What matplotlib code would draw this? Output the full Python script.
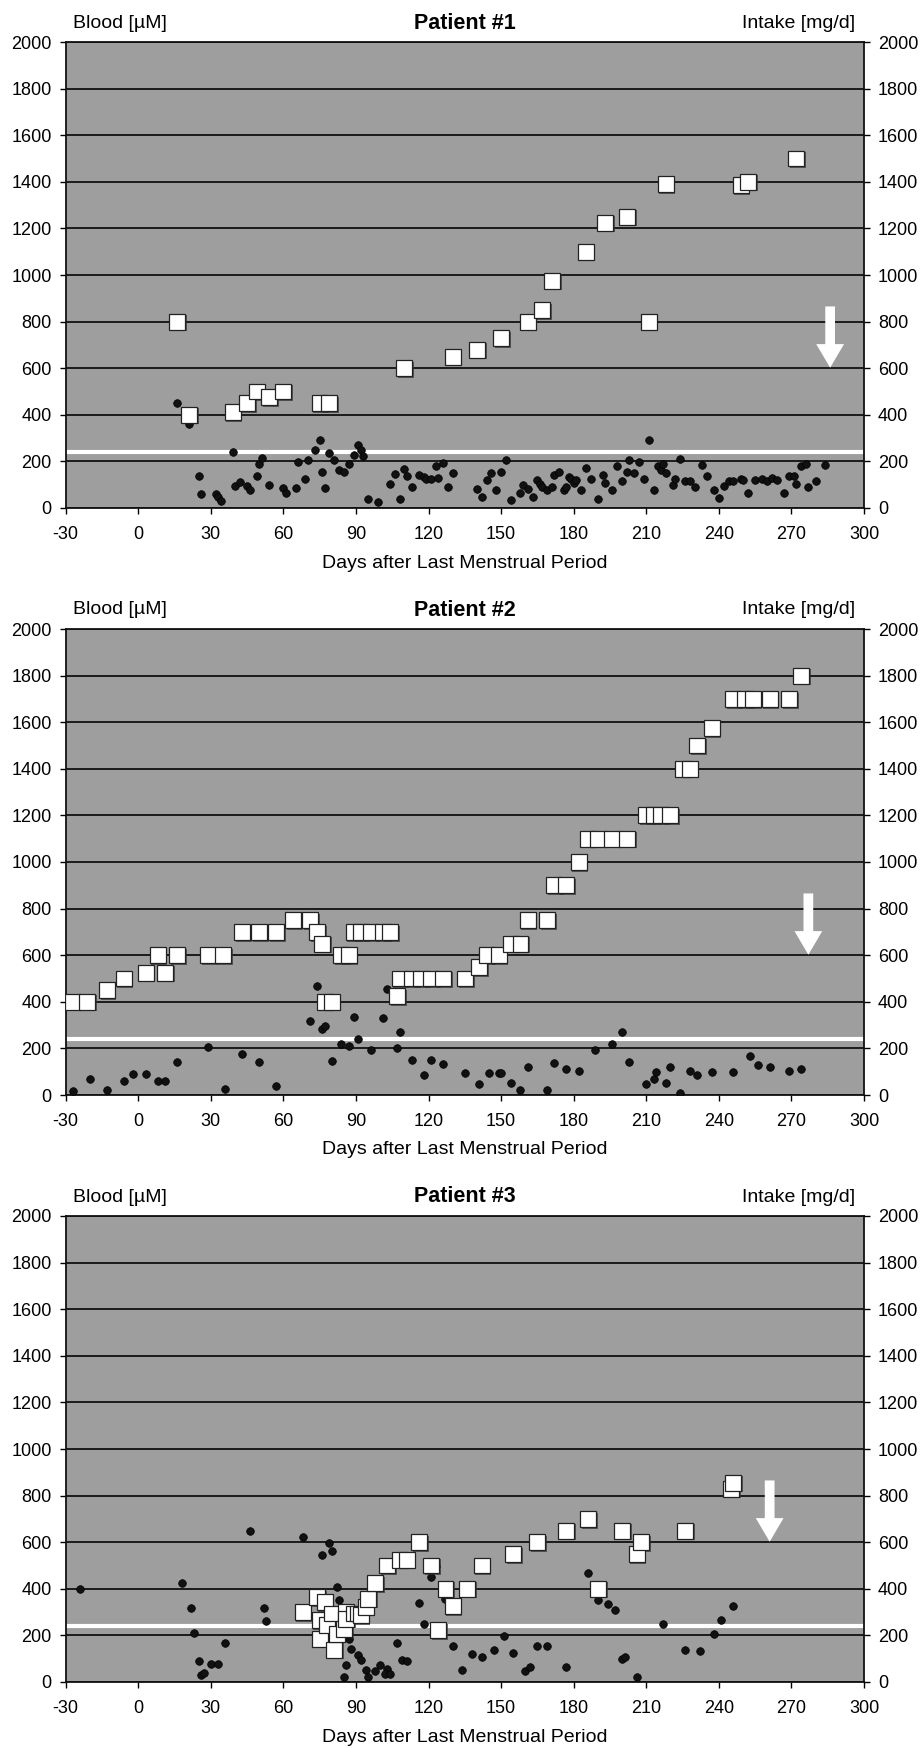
import matplotlib
matplotlib.use("Agg")
import matplotlib.pyplot as plt
import matplotlib.patheffects as pe

plt.rcParams['font.family'] = ['Liberation Sans', 'DejaVu Sans']
plt.rcParams['axes.unicode_minus'] = False

# ---------------- Data ----------------
# Patient 1
p1_blood_day = [16, 21, 25, 26, 32, 33, 34, 39, 40, 42, 45, 46, 49, 50, 51, 54, 60, 61, 65, 66,
                69, 70, 73, 75, 76, 77, 79, 81, 83, 85, 87, 89, 91, 92, 93, 95, 99, 104, 106, 108,
                110, 111, 113, 116, 118, 119, 121, 123, 124, 126, 128, 130, 140, 142, 144, 146, 148, 150, 152, 154,
                158, 159, 161, 163, 165, 166, 167, 169, 171, 172, 174, 176, 177, 178, 179, 180, 181, 183, 185, 187,
                190, 192, 193, 196, 198, 200, 202, 203, 205, 207, 209, 211, 213, 215, 216, 217, 218, 221, 222, 224,
                226, 228, 230, 233, 235, 238, 240, 242, 244, 246, 249, 250, 252, 255, 258, 260, 262, 264, 267, 269,
                271, 272, 274, 276, 277, 280, 284]
p1_blood_val = [450, 361, 137, 59, 59, 47, 30, 240, 94, 111, 94, 76, 137, 187, 216, 97, 86, 66, 86, 199,
                123, 207, 251, 290, 156, 84, 236, 207, 164, 156, 187, 226, 271, 247, 223, 37, 26, 104, 144, 37,
                166, 136, 90, 140, 133, 123, 126, 179, 130, 193, 90, 151, 83, 47, 119, 150, 79, 154, 204, 36,
                66, 97, 83, 47, 119, 104, 90, 79, 90, 140, 154, 76, 90, 133, 123, 107, 119, 79, 173, 123,
                37, 140, 107, 79, 179, 114, 154, 204, 150, 197, 126, 290, 79, 180, 164, 190, 150, 100, 126, 209,
                114, 114, 90, 186, 137, 76, 43, 94, 114, 114, 126, 119, 66, 119, 123, 114, 130, 119, 66, 137,
                136, 101, 180, 187, 90, 114, 186]
p1_intake_day = [16, 21, 39, 45, 49, 54, 60, 75, 79, 110, 130, 140, 150, 161, 167, 171,
                 185, 193, 202, 211, 218, 249, 252, 272]
p1_intake_val = [800, 400, 410, 450, 500, 475, 500, 450, 450, 600, 650, 680, 730, 800, 850, 975,
                 1100, 1225, 1250, 800, 1390, 1385, 1400, 1500]

# Patient 2
p2_blood_day = [-27, -20, -13, -6, -2, 3, 8, 11, 16, 29, 36, 43, 50, 57, 71, 74, 76, 77, 80, 84,
                87, 89, 91, 96, 101, 103, 107, 108, 113, 118, 121, 126, 135, 141, 145, 149, 150, 154, 158, 161,
                169, 172, 177, 182, 189, 196, 200, 203, 210, 213, 214, 218, 220, 224, 228, 231, 237, 246, 253, 256,
                261, 269, 274]
p2_blood_val = [17, 67, 21, 61, 90, 90, 61, 61, 140, 207, 26, 176, 140, 39, 319, 469, 283, 296, 146, 220,
                211, 336, 240, 193, 331, 457, 200, 271, 150, 86, 150, 133, 93, 46, 93, 93, 93, 50, 21, 121,
                21, 136, 110, 104, 193, 221, 271, 140, 46, 69, 97, 50, 121, 7, 104, 86, 97, 97, 169, 129,
                121, 104, 110]
p2_intake_day = [-27, -21, -13, -6, 3, 8, 11, 16, 29, 35, 43, 50, 57, 64, 71, 74, 76, 77, 80, 84,
                 87, 89, 92, 96, 101, 104, 107, 108, 113, 117, 121, 126, 135, 141, 144, 149, 154, 158, 161, 169,
                 172, 177, 182, 186, 190, 196, 202, 210, 213, 216, 220, 225, 228, 231, 237, 246, 251, 254, 261, 269,
                 274]
p2_intake_val = [400, 400, 450, 500, 525, 600, 525, 600, 600, 600, 700, 700, 700, 750, 750, 700, 650, 400, 400, 600,
                 600, 700, 700, 700, 700, 700, 425, 500, 500, 500, 500, 500, 500, 550, 600, 600, 650, 650, 750, 750,
                 900, 900, 1000, 1100, 1100, 1100, 1100, 1200, 1200, 1200, 1200, 1400, 1400, 1500, 1575, 1700, 1700, 1700, 1700, 1700,
                 1800]

# Patient 3
p3_blood_day = [-24, 18, 22, 23, 25, 26, 27, 30, 33, 36, 46, 52, 53, 68, 76, 79, 80, 82, 83, 87,
                88, 91, 92, 85, 86, 94, 95, 98, 100, 103, 102, 104, 107, 109, 111, 116, 118, 121, 123, 127,
                130, 134, 138, 142, 147, 151, 155, 160, 162, 165, 169, 177, 186, 190, 194, 197, 200, 201, 206, 217,
                226, 232, 238, 241, 246]
p3_blood_val = [397, 426, 318, 209, 89, 29, 40, 76, 76, 168, 648, 318, 262, 624, 545, 596, 563, 409, 354, 184,
                143, 115, 93, 22, 72, 53, 22, 47, 72, 57, 36, 36, 168, 93, 89, 340, 247, 449, 497, 358,
                155, 53, 122, 108, 136, 198, 125, 47, 65, 155, 155, 65, 466, 351, 334, 311, 100, 108, 22, 247,
                139, 132, 205, 268, 325]
p3_intake_day = [68, 74, 75, 75, 77, 78, 80, 81, 82, 85, 86, 86, 89, 91, 92, 94, 95, 98, 103, 108,
                 111, 116, 121, 124, 127, 130, 136, 142, 155, 165, 177, 186, 190, 200, 206, 208, 226, 245, 246]
p3_intake_val = [300, 363, 265, 186, 344, 244, 294, 139, 208, 229, 301, 272, 294, 294, 287, 323, 358, 425, 500, 525,
                 525, 600, 500, 222, 400, 325, 400, 500, 550, 600, 650, 700, 400, 650, 550, 600, 650, 830, 855]

patients = ["Patient #1", "Patient #2", "Patient #3"]
blood_days = [p1_blood_day, p2_blood_day, p3_blood_day]
blood_vals = [p1_blood_val, p2_blood_val, p3_blood_val]
intake_days = [p1_intake_day, p2_intake_day, p3_intake_day]
intake_vals = [p1_intake_val, p2_intake_val, p3_intake_val]
arrow_day = [286, 277, 261]
arrow_from, arrow_to = 865, 602
threshold = 240

x_ticks = list(range(-30, 301, 30))
y_ticks = list(range(0, 2001, 200))

# ---------------- Figure ----------------
W, H = 923, 1748
fig = plt.figure(figsize=(W / 100, H / 100), dpi=100)
fig.patch.set_facecolor('white')

left_px, right_px = 65.7, 864.0
panels_px = [(42, 508), (629, 1095), (1216, 1682)]
bg = '#9d9e9d'

for i, (top, bot) in enumerate(panels_px):
    ax = fig.add_axes([left_px / W, 1 - bot / H, (right_px - left_px) / W, (bot - top) / H])
    ax.set_facecolor(bg)
    ax.set_xlim(-30, 300)
    ax.set_ylim(0, 2000)
    ax.set_xticks(x_ticks)
    ax.set_yticks(y_ticks)
    ax.grid(axis='y', color='#111111', linewidth=1.3)
    ax.set_axisbelow(True)
    for s in ax.spines.values():
        s.set_color('#111111')
        s.set_linewidth(1.3)
    ax.tick_params(axis='x', direction='out', length=4, width=1, pad=9, labelsize=13)
    ax.tick_params(axis='y', direction='out', length=4, width=1, pad=6, labelsize=13)

    ax.axhline(threshold, color='white', linewidth=3, zorder=2)
    ax.plot(blood_days[i], blood_vals[i], 'o', ms=5.5, mfc='#111111', mec='#000000',
            mew=0.5, zorder=3, linestyle='none')

    ax2 = ax.twinx()
    ax2.set_ylim(0, 2000)
    ax2.set_yticks(y_ticks)
    ax2.tick_params(axis='y', direction='out', length=4, width=1, pad=6, labelsize=13)
    for s in ax2.spines.values():
        s.set_visible(False)
    ax2.plot(intake_days[i], intake_vals[i], 's', ms=11.5, mfc='white', mec='#222222',
             mew=0.9, linestyle='none', zorder=4,
             path_effects=[pe.SimplePatchShadow(offset=(1.2, -1.2), shadow_rgbFace='#333333', alpha=0.7),
                           pe.Normal()])
    ax2.annotate('', xy=(arrow_day[i], arrow_to), xytext=(arrow_day[i], arrow_from),
                 arrowprops=dict(width=7, headwidth=20, headlength=17, facecolor='white',
                                 edgecolor='none', shrink=0), zorder=5)

    h = bot - top
    ax.text(0.5, 1 + 19 / h, patients[i], transform=ax.transAxes, ha='center', va='center',
            fontsize=15.5, fontweight='bold')
    ax.text((120 - left_px) / (right_px - left_px), 1 + 19 / h, 'Blood [µM]', transform=ax.transAxes,
            ha='center', va='center', fontsize=14)
    ax.text((799 - left_px) / (right_px - left_px), 1 + 19 / h, 'Intake [mg/d]', transform=ax.transAxes,
            ha='center', va='center', fontsize=14)
    ax.text(0.5, -55 / h, 'Days after Last Menstrual Period', transform=ax.transAxes,
            ha='center', va='center', fontsize=14)

fig.savefig('out.png', dpi=100, facecolor='white')
